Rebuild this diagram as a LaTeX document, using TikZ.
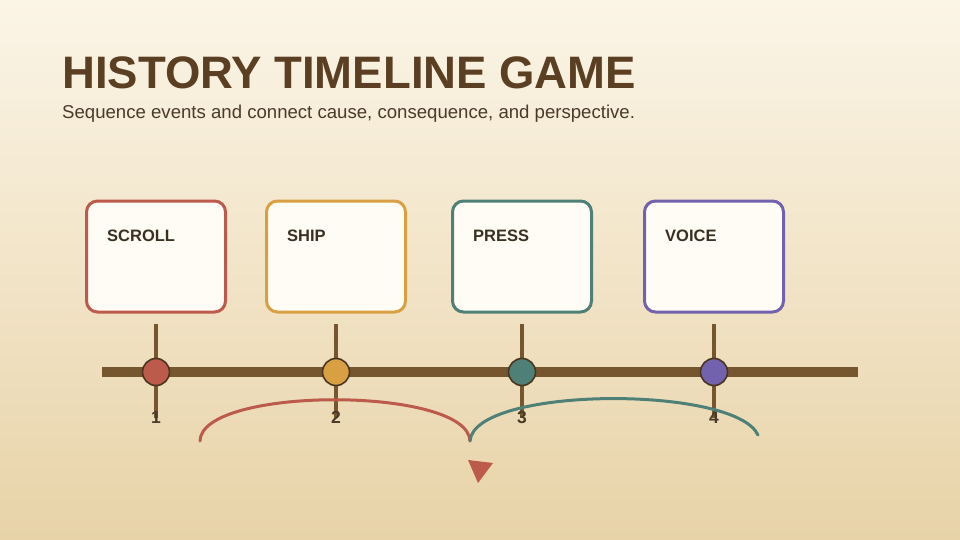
\documentclass[tikz,border=0pt]{standalone}
\usepackage{fontspec}
\setmainfont{Liberation Sans}
\definecolor{bgtop}{HTML}{FBF5E7}
\definecolor{bgbot}{HTML}{E8D3A8}
\definecolor{cred}{HTML}{BC5A4B}
\definecolor{corange}{HTML}{D9A043}
\definecolor{cteal}{HTML}{4E8077}
\definecolor{cpurple}{HTML}{7262AD}
\definecolor{brownline}{HTML}{76562F}
\definecolor{dotrim}{HTML}{4A3520}
\definecolor{titlecol}{HTML}{5A3F22}
\definecolor{subcol}{HTML}{4A3A28}
\definecolor{cardtxt}{HTML}{3A3022}
\definecolor{cardfill}{HTML}{FFFCF5}
\tikzset{
  card/.style={draw=#1, line width=3pt, fill=cardfill, rounded corners=11pt,
    minimum width=139pt, minimum height=111pt, inner sep=0pt},
  cardlabel/.style={anchor=base west, font=\bfseries\fontsize{16.5}{18}\selectfont, text=cardtxt, inner sep=0pt},
  dot/.style={circle, draw=dotrim, line width=1.6pt, fill=#1, minimum size=27pt, inner sep=0pt},
  tick/.style={draw=brownline, line width=3.5pt},
  num/.style={anchor=base, font=\bfseries\fontsize{17.5}{19}\selectfont, text=subcol, inner sep=0pt},
  arc/.style={draw=#1, line width=3pt, line cap=round},
}
\begin{document}
\begin{tikzpicture}[x=1pt,y=-1pt]
\shade[top color=bgtop, bottom color=bgbot] (0,0) rectangle (960,540);
\useasboundingbox (0,0) rectangle (960,540);
% title
\node[anchor=base west, inner sep=0pt, font=\bfseries\fontsize{45.5}{50}\selectfont, text=titlecol] (title) at (62,89) {HISTORY TIMELINE GAME};
\node[anchor=base west, inner sep=0pt, font=\fontsize{18.6}{21}\selectfont, text=subcol] (subtitle) at (62,119) {Sequence events and connect cause, consequence, and perspective.};
% cards
\node[card=cred] (c1) at (156,256.5) {};
\node[card=corange] (c2) at (336,256.5) {};
\node[card=cteal] (c3) at (522,256.5) {};
\node[card=cpurple] (c4) at (714,256.5) {};
\node[cardlabel] (l1) at (107,241) {SCROLL};
\node[cardlabel] (l2) at (287,241) {SHIP};
\node[cardlabel] (l3) at (473,241) {PRESS};
\node[cardlabel] (l4) at (665,241) {VOICE};
% timeline
\coordinate (tl) at (102,372);
\coordinate (tr) at (858,372);
\draw[draw=brownline, line width=9.5pt] (tl) -- (tr);
\foreach \i/\x in {1/156,2/336,3/522,4/714}{
  \coordinate (ta\i) at (\x,324);
  \coordinate (tb\i) at (\x,418);
  \draw[tick] (ta\i) -- (tb\i);
  \node[num] (n\i) at (\x,423) {\i};
}
\node[dot=cred] (d1) at (156,372) {};
\node[dot=corange] (d2) at (336,372) {};
\node[dot=cteal] (d3) at (522,372) {};
\node[dot=cpurple] (d4) at (714,372) {};
% arcs
\coordinate (a1s) at (200,441);
\coordinate (a1e) at (470,441);
\coordinate (a2e) at (758,435);
\draw[arc=cred] (a1s) .. controls (201,386) and (468,386) .. (a1e);
\draw[arc=cteal] (a1e) .. controls (474,386) and (735,385) .. (a2e);
% detached arrow head
\coordinate (h1) at (468,460);
\coordinate (h2) at (493,463);
\coordinate (h3) at (478,483);
\fill[cred] (h1) -- (h2) -- (h3) -- cycle;
\end{tikzpicture}
\end{document}
